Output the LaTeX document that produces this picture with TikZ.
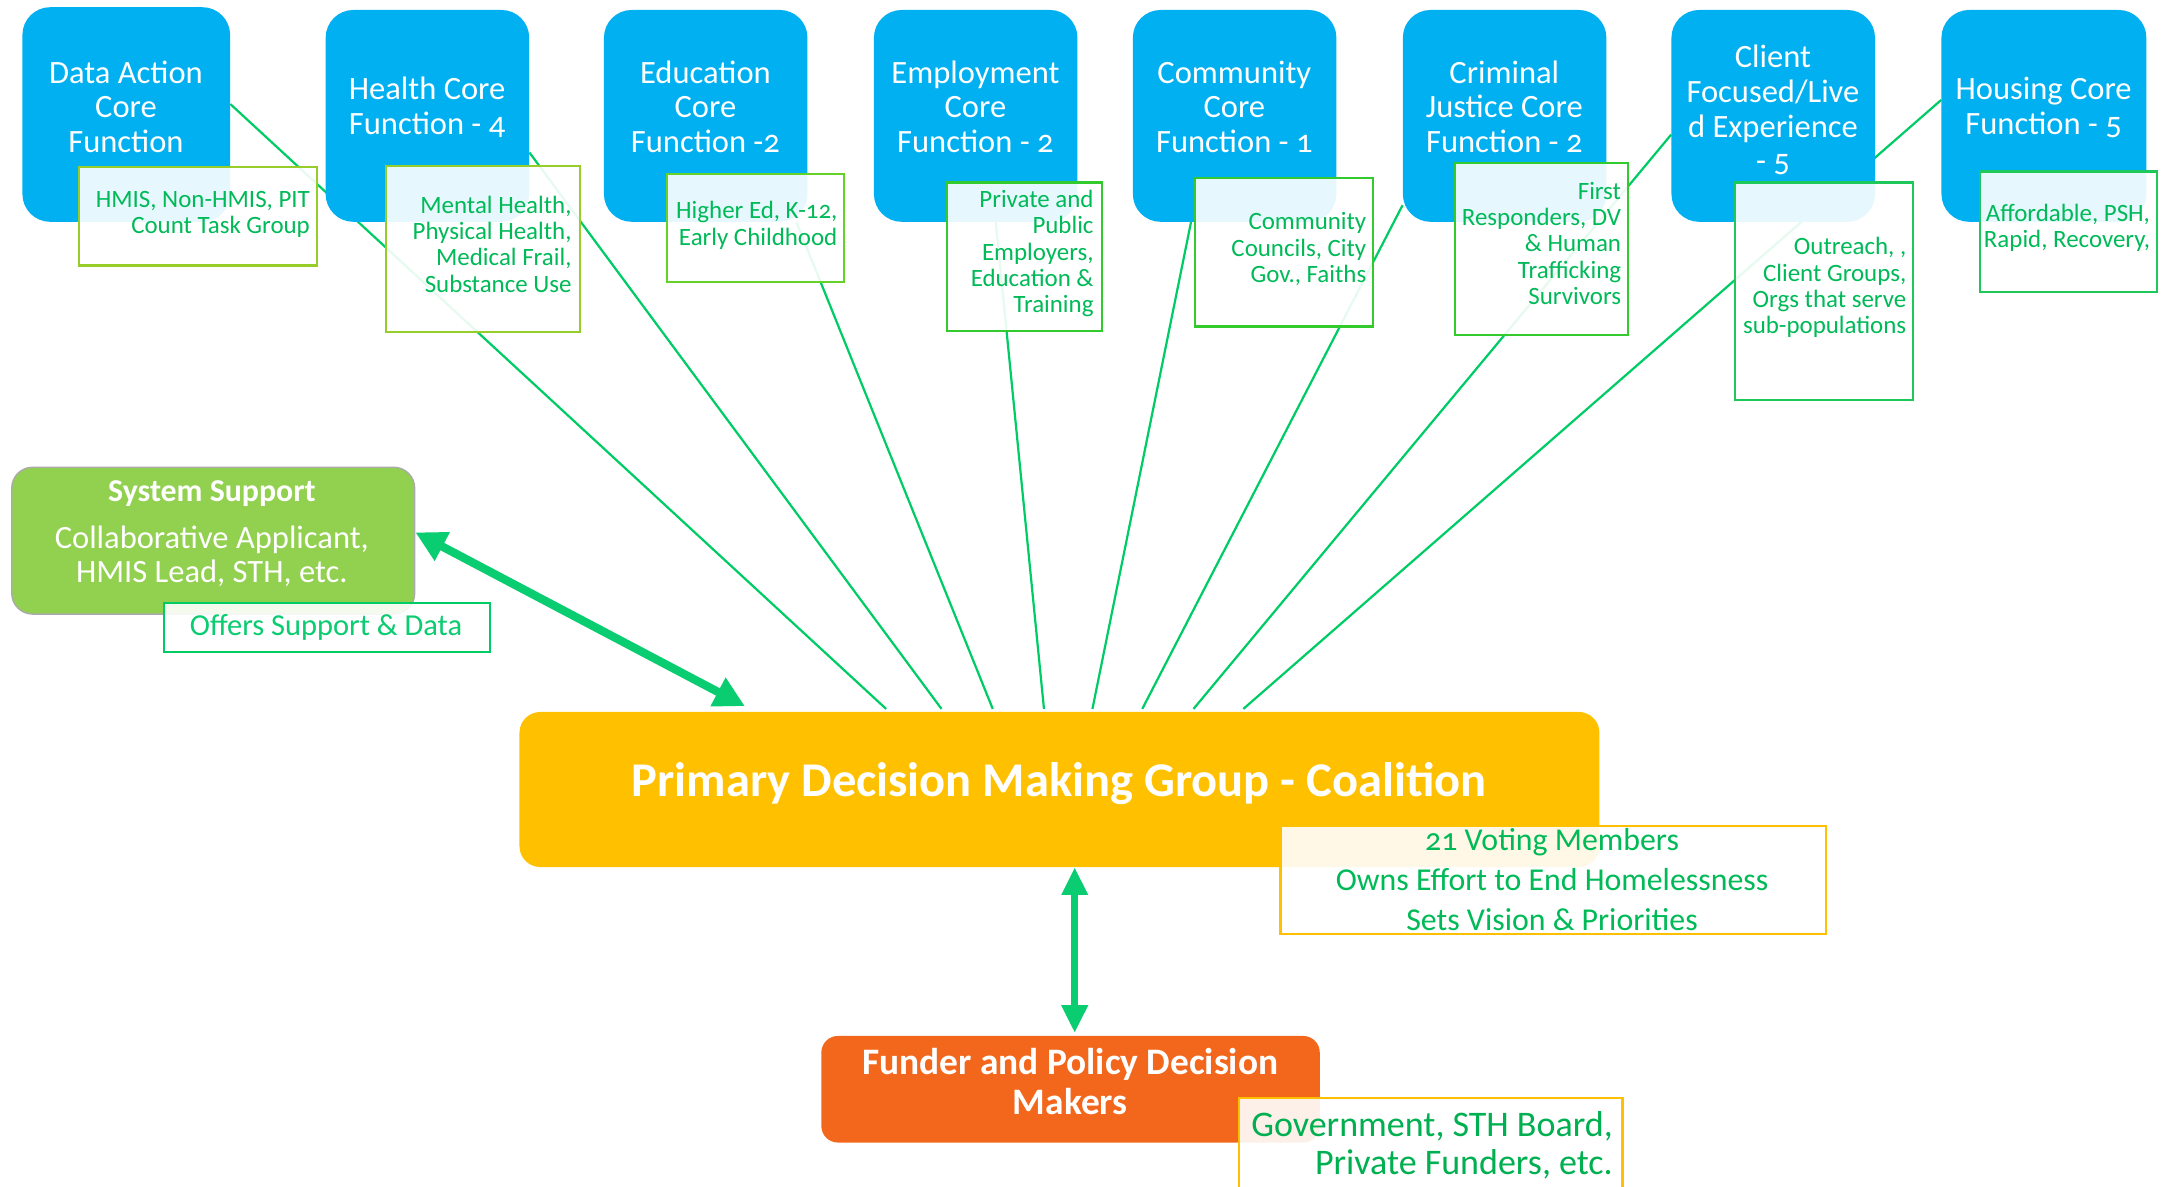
\documentclass[tikz,border=0pt]{standalone}
\usepackage{fontspec}
\setmainfont{Carlito}[Numbers=OldStyle]
\usetikzlibrary{arrows.meta,calc}
\pgfdeclarelayer{bg}
\pgfsetlayers{bg,main}
\definecolor{cblue}{RGB}{0,176,240}
\definecolor{cyel}{RGB}{255,192,0}
\definecolor{cgreen}{RGB}{146,208,80}
\definecolor{corange}{RGB}{243,103,28}
\definecolor{lgreen}{RGB}{0,204,102}
\definecolor{agreen}{RGB}{10,204,112}
\definecolor{tgreen}{RGB}{0,186,88}
\definecolor{dgreen}{RGB}{0,176,80}
\definecolor{blime}{RGB}{150,205,40}
\definecolor{bgrass}{RGB}{100,210,40}
\definecolor{bmid}{RGB}{50,202,45}
\definecolor{bsea}{RGB}{30,200,90}
\definecolor{sysgray}{RGB}{170,170,170}
\newcommand\fsz[2]{\fontsize{#1}{#2}\selectfont}
\begin{document}
\begin{tikzpicture}[x=1pt,y=-1pt,
  bluebox/.style={rounded corners=20pt, fill=cblue, minimum width=147pt, minimum height=153pt, inner sep=0pt, anchor=north west},
  bluetext/.style={text=white, align=center, inner sep=0pt, anchor=base, font=\fsz{23.5}{25}},
  subbox/.style={draw=#1, line width=1.6pt, fill=white, fill opacity=0.9, inner sep=0pt, anchor=north west},
  subtext/.style={text=tgreen, align=right, inner sep=0pt, anchor=base east, font=\fsz{18}{19}},
  conn/.style={draw=lgreen, line width=1.6pt},
  bigarrow/.style={draw=agreen, line width=#1, {Triangle[length=22pt,width=22pt]}-{Triangle[length=22pt,width=22pt]}}
]
\useasboundingbox (0,0) rectangle (1568,857);

% top core function boxes
\node[bluebox, minimum width=150pt, minimum height=155pt] (bData) at (16,5) {};
\node[bluebox] (bHealth) at (235,7) {};
\node[bluebox] (bEdu) at (436,7) {};
\node[bluebox] (bEmp) at (631,7) {};
\node[bluebox] (bCom) at (818,7) {};
\node[bluebox] (bCrim) at (1013,7) {};
\node[bluebox] (bCli) at (1207,7) {};
\node[bluebox, minimum width=148pt] (bHou) at (1402,7) {};

% (base anchor = baseline of the last line)
\node[bluetext] (tData) at (91,110) {Data Action\\Core\\Function};
\node[bluetext] (tHealth) at (308.5,97) {Health Core\\Function - 4};
\node[bluetext] (tEdu) at (509.5,110) {Education\\Core\\Function -2};
\node[bluetext] (tEmp) at (704.5,110) {Employment\\Core\\Function - 2};
\node[bluetext] (tCom) at (891.5,110) {Community\\Core\\Function - 1};
\node[bluetext] (tCrim) at (1086.5,110) {Criminal\\Justice Core\\Function - 2};
\node[bluetext] (tCli) at (1280.5,124) {Client\\Focused/Live\\d Experience\\- 5};
\node[bluetext] (tHou) at (1476,97) {Housing Core\\Function - 5};

% coalition
\node[rounded corners=15pt, fill=cyel, minimum width=780pt, minimum height=112pt, inner sep=0pt, anchor=north west] (coal) at (375,514) {};
\node[text=white, inner sep=0pt, anchor=base, font=\fsz{35}{40}\bfseries] (tCoal) at (765,575) {Primary Decision Making Group - Coalition};

% system support
\node[rounded corners=15pt, fill=cgreen, draw=sysgray, line width=1pt, minimum width=291pt, minimum height=106pt, inner sep=0pt, anchor=north west] (sys) at (8,337) {};
\node[text=white, inner sep=0pt, anchor=base, font=\fsz{23}{25}\bfseries] (tSys) at (153,362) {System Support};
\node[text=white, align=center, inner sep=0pt, anchor=base, font=\fsz{23.5}{25}] (tSys2) at (153,421) {Collaborative Applicant,\\HMIS Lead, STH, etc.};

% funder
\node[rounded corners=12pt, fill=corange, minimum width=360pt, minimum height=77pt, inner sep=0pt, anchor=north west] (fund) at (593,748) {};
\node[text=white, align=center, inner sep=0pt, anchor=base, font=\fsz{27}{29}\bfseries] (tFund) at (773,805) {Funder and Policy Decision\\Makers};

% connectors (behind)
\begin{pgfonlayer}{bg}
\draw[conn] ([yshift=7.5pt]bData.east) -- ([xshift=265pt,yshift=2pt]coal.north west);
\draw[conn] ([yshift=-26.5pt]bHealth.east) -- ([xshift=305pt,yshift=2pt]coal.north west);
\draw[conn] ([xshift=65.5pt]bEdu.south) -- ([xshift=342pt,yshift=2pt]coal.north west);
\draw[conn] ([xshift=14.5pt]bEmp.south) -- ([xshift=379pt,yshift=2pt]coal.north west);
\draw[conn] ([xshift=-31.5pt]bCom.south) -- ([xshift=414pt,yshift=2pt]coal.north west);
\draw[conn] ([yshift=-64.5pt]bCrim.west) -- ([xshift=450pt,yshift=2pt]coal.north west);
\draw[conn] ([yshift=-13.5pt]bCli.west) -- ([xshift=487pt,yshift=2pt]coal.north west);
\draw[conn] ([yshift=11.5pt]bHou.west) -- ([xshift=523pt,yshift=2pt]coal.north west);
\end{pgfonlayer}

% sub boxes
\node[subbox=blime, minimum width=172pt, minimum height=71pt] (sData) at (56,120) {};
\node[subbox=blime, minimum width=140pt, minimum height=120pt] (sHealth) at (278,119) {};
\node[subbox=bgrass, minimum width=128pt, minimum height=78pt] (sEdu) at (481,125) {};
\node[subbox=bmid, minimum width=112pt, minimum height=107pt] (sEmp) at (683,131) {};
\node[subbox=bmid, minimum width=129pt, minimum height=107pt] (sCom) at (862,128) {};
\node[subbox=bmid, minimum width=125pt, minimum height=124pt] (sCrim) at (1050,117) {};
\node[subbox=bsea, minimum width=129pt, minimum height=157pt] (sCli) at (1252,131) {};
\node[subbox=bsea, minimum width=128pt, minimum height=87pt] (sHou) at (1429,123) {};

\node[subtext] (xData) at (224,169) {HMIS, Non-HMIS, PIT\\Count Task Group};
\node[subtext] (xHealth) at (413,211) {Mental Health,\\Physical Health,\\Medical Frail,\\Substance Use};
\node[subtext] (xEdu) at (605,177) {Higher Ed, K-12,\\Early Childhood};
\node[subtext] (xEmp) at (790,226) {Private and\\Public\\Employers,\\Education \&\\Training};
\node[subtext] (xCom) at (987,204) {Community\\Councils, City\\Gov., Faiths};
\node[subtext] (xCrim) at (1171,220) {First\\Responders, DV\\\& Human\\Trafficking\\Survivors};
\node[subtext] (xCli) at (1377,241) {Outreach, ,\\Client Groups,\\Orgs that serve\\sub-populations};
\node[subtext] (xHou) at (1553,179) {Affordable, PSH,\\Rapid, Recovery,};

% offers support box
\node[subbox=lgreen, line width=1.4pt, minimum width=235pt, minimum height=35pt] (sOff) at (118,435) {};
\node[text=agreen, inner sep=0pt, anchor=base, font=\fsz{22}{24}] (xOff) at (235.5,459) {Offers Support \& Data};

% coalition sub box
\node[subbox=cyel, minimum width=394pt, minimum height=78pt] (sCoal) at (924,596) {};
\node[text=tgreen, align=center, inner sep=0pt, anchor=base, font=\fsz{23}{29}] (xCoal) at (1121,672) {21 Voting Members\\Owns Effort to End Homelessness\\Sets Vision \& Priorities};

% funder sub box
\node[subbox=cyel, minimum width=277pt, minimum height=70pt] (sFund) at (894,792) {};
\node[text=dgreen, align=right, inner sep=0pt, anchor=base east, font=\fsz{26}{27}] (xFund) at (1165,848) {Government, STH Board,\\Private Funders, etc.};

% arrows
\coordinate (fTop) at ([xshift=3pt,yshift=2pt]fund.north);
\draw[bigarrow=6pt] ([yshift=6pt]sys.east) -- ([xshift=163pt,yshift=4pt]coal.north west);
\draw[draw=agreen, line width=5pt, {Triangle[length=20pt,width=18pt]}-{Triangle[length=20pt,width=18pt]}] (fTop |- coal.south) -- (fTop);
\end{tikzpicture}
\end{document}
